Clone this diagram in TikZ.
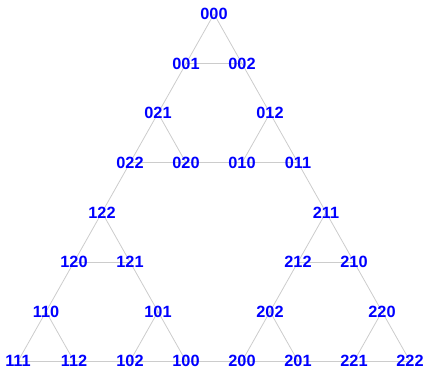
\documentclass[tikz,border=0pt]{standalone}
\usepackage{fontspec}
\setmainfont{Liberation Sans}
\begin{document}
\begin{tikzpicture}[x=1pt,y=1pt,
  lab/.style={text=blue,font=\fontsize{16.3}{17}\selectfont\bfseries,inner sep=0pt},
  edge/.style={draw=black!20,line width=0.8pt}]
\useasboundingbox (0,0) rectangle (423,370);
\foreach \n/\k/\r in {000/7/0, 001/6/1, 002/8/1, 021/5/2, 012/9/2,
  022/4/3, 020/6/3, 010/8/3, 011/10/3, 122/3/4, 211/11/4,
  120/2/5, 121/4/5, 212/10/5, 210/12/5,
  110/1/6, 101/5/6, 202/9/6, 220/13/6,
  111/0/7, 112/2/7, 102/4/7, 100/6/7, 200/8/7, 201/10/7, 221/12/7, 222/14/7}
  \coordinate (\n) at ({18+28*\k},{356-49.6*\r});
\foreach \a/\b in {000/001,000/002,001/002,001/021,002/012,021/022,021/020,022/020,
  020/010,012/010,012/011,010/011,022/122,011/211,122/120,122/121,120/121,120/110,
  121/101,110/111,110/112,111/112,101/102,101/100,102/100,112/102,100/200,
  211/212,211/210,212/210,212/202,210/220,202/200,202/201,200/201,201/221,
  220/221,220/222,221/222}
  \draw[edge] (\a) -- (\b);
\foreach \n in {000,001,002,021,012,022,020,010,011,122,211,120,121,212,210,
  110,101,202,220,111,112,102,100,200,201,221,222}
  \node[lab] (l\n) at (\n) {\n};
\end{tikzpicture}
\end{document}
